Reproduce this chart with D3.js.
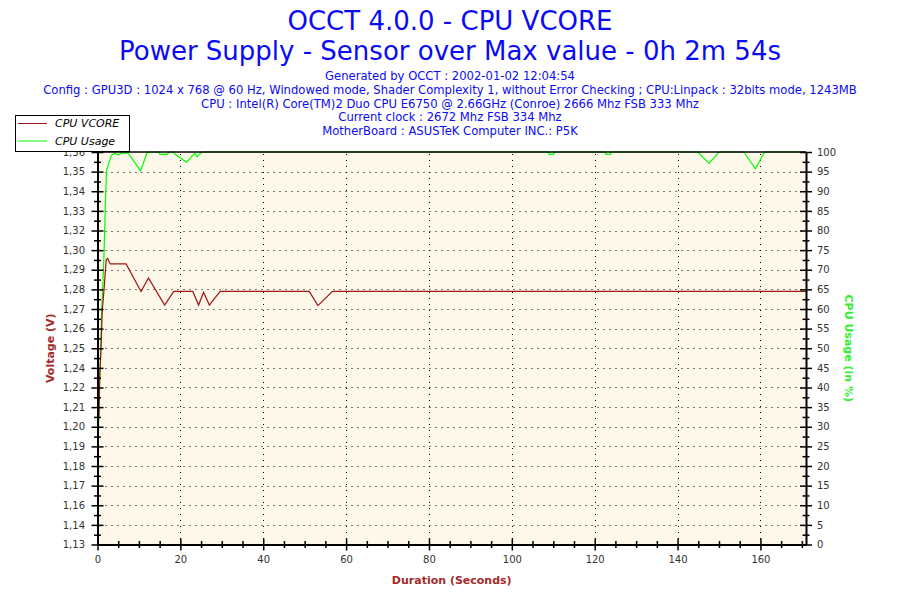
<!DOCTYPE html>
<html>
<head>
<meta charset="utf-8">
<script src="https://cdn.jsdelivr.net/npm/d3@7"></script>
<style>
    body { margin: 0; background: #fff; }
    svg text { font-family: "DejaVu Sans", Verdana, sans-serif; }
</style>
</head>
<body>
<div class="visContainer"></div>
<script>
// Header text.
const titleLines = ['OCCT 4.0.0 - CPU VCORE', 'Power Supply - Sensor over Max value - 0h 2m 54s'];
const infoLines = [
    'Generated by OCCT : 2002-01-02 12:04:54',
    'Config : GPU3D : 1024 x 768 @ 60 Hz, Windowed mode, Shader Complexity 1, without Error Checking ; CPU:Linpack : 32bits mode, 1243MB',
    'CPU : Intel(R) Core(TM)2 Duo CPU E6750 @ 2.66GHz (Conroe) 2666 Mhz FSB 333 Mhz',
    'Current clock : 2672 Mhz FSB 334 Mhz',
    'MotherBoard : ASUSTeK Computer INC.: P5K'
];
const seriesNames = ['CPU VCORE', 'CPU Usage'];

// Axis ticks.
const voltMin = 1.1322;
const voltMax = 1.3622;
const voltTickLabels = ['1,13', '1,14', '1,16', '1,17', '1,18', '1,19', '1,20', '1,21', '1,22', '1,24', '1,25',
                        '1,26', '1,27', '1,28', '1,29', '1,30', '1,32', '1,33', '1,34', '1,35', '1,36'];
const usageTicks = [0, 5, 10, 15, 20, 25, 30, 35, 40, 45, 50, 55, 60, 65, 70, 75, 80, 85, 90, 95, 100];
const timeTicks = [0, 20, 40, 60, 80, 100, 120, 140, 160];
const timeMax = 171;

// Series (seconds, volts / percent).
const vcoreTime = [0.35, 0.52, 0.84, 1.16, 1.57, 1.8, 2.1, 2.4, 3.1, 6.9, 10.5, 12.3, 16.2, 18.4,
                   23.0, 24.4, 25.6, 27.0, 29.6, 51.1, 53.2, 56.7, 171];
const vcoreValues = [1.2071, 1.2305, 1.2462, 1.2696, 1.2813, 1.2891, 1.2989, 1.2999, 1.2966, 1.2966, 1.2805, 1.2884, 1.2725, 1.2805,
                     1.2805, 1.2725, 1.2800, 1.2725, 1.2805, 1.2805, 1.2722, 1.2805, 1.2805];
const usageTime = [0.15, 0.36, 0.67, 1.0, 1.3, 1.6, 1.9, 2.2, 3.4, 4.2, 5.0, 5.8, 7.4, 10.4, 11.9, 12.7,
                   14.7, 15.1, 16.7, 17.5, 18.3, 18.7, 21.5, 22.7, 23.5, 24.0, 24.9, 25.5,
                   108.8, 109, 110, 110.2, 122.5, 122.7, 123.8, 124, 144.9, 147.6, 150, 156, 158.8, 161, 171];
const usageValues = [26, 34, 46, 59.5, 66.4, 74.8, 86.8, 95.4, 99.2, 99.7, 99.2, 99.7, 99.7, 95.2, 99.7, 100,
                     100, 99.4, 99.4, 100, 100, 99.4, 97.4, 98.8, 99.7, 98.8, 99.7, 100,
                     100, 99.4, 99.4, 100, 100, 99.4, 99.4, 100, 100, 97.1, 100, 100, 95.7, 100, 100];

// SVG constants.
const width = 900;
const height = 600;
const plot = { left: 97.5, right: 806, top: 152, bottom: 544.5 };
const vcoreColor = '#A01414';
const usageColor = '#00FF00';

const svg = d3.select('.visContainer')
              .append('svg')
              .attr('width', width)
              .attr('height', height);

// Scales.
const x = d3.scaleLinear().domain([0, timeMax]).range([plot.left, plot.right]);
const yVolt = d3.scaleLinear().domain([voltMin, voltMax]).range([plot.bottom, plot.top]);
const yUsage = d3.scaleLinear().domain([0, 100]).range([plot.bottom, plot.top]);

const voltStep = (voltMax - voltMin) / (voltTickLabels.length - 1);
const voltTicks = voltTickLabels.map((d, i) => voltMin + i * voltStep);
const voltMinor = voltTicks.slice(1).map((d) => d - voltStep / 2);
const usageMinor = usageTicks.slice(1).map((d) => d - 2.5);
const timeMinor = d3.range(5, timeMax, 5).filter((d) => d % 20 !== 0);

// Titles.
svg.selectAll('.title')
   .data(titleLines)
   .enter()
   .append('text')
   .attr('class', 'title')
   .attr('x', width / 2)
   .attr('y', (d, i) => 29.5 + i * 30.5)
   .attr('text-anchor', 'middle')
   .attr('font-size', 26)
   .attr('fill', '#0A0AF5')
   .text((d) => d);

svg.selectAll('.info')
   .data(infoLines)
   .enter()
   .append('text')
   .attr('class', 'info')
   .attr('x', width / 2)
   .attr('y', (d, i) => 80 + i * 13.8)
   .attr('text-anchor', 'middle')
   .attr('font-size', 11.6)
   .attr('fill', '#0A0AF5')
   .text((d) => d);

// Plot background.
svg.append('rect')
   .attr('x', plot.left)
   .attr('y', plot.top)
   .attr('width', plot.right - plot.left)
   .attr('height', plot.bottom - plot.top)
   .attr('fill', '#FDF8E9');

// Grid.
const grid = svg.append('g')
                .attr('stroke', '#000')
                .attr('stroke-width', 1)
                .attr('stroke-dasharray', '1,5');
grid.selectAll('.hgrid')
    .data(voltTicks.slice(1, -1))
    .enter()
    .append('line')
    .attr('x1', plot.left + 8)
    .attr('x2', plot.right)
    .attr('y1', (d) => Math.round(yVolt(d)) + 0.5)
    .attr('y2', (d) => Math.round(yVolt(d)) + 0.5);
grid.selectAll('.vgrid')
    .data(timeTicks.slice(1))
    .enter()
    .append('line')
    .attr('x1', (d) => Math.round(x(d)) + 0.5)
    .attr('x2', (d) => Math.round(x(d)) + 0.5)
    .attr('y1', plot.top + 2)
    .attr('y2', plot.bottom - 4);

// Series lines.
const usageLine = d3.line()
                    .x((d, i) => x(usageTime[i]))
                    .y((d) => yUsage(d));
const vcoreLine = d3.line()
                    .x((d, i) => x(vcoreTime[i]))
                    .y((d) => yVolt(d));

svg.append('path')
   .datum(usageValues)
   .attr('d', usageLine)
   .attr('fill', 'none')
   .attr('stroke', usageColor)
   .attr('stroke-width', 1.2);
svg.append('path')
   .datum(vcoreValues)
   .attr('d', vcoreLine)
   .attr('fill', 'none')
   .attr('stroke', vcoreColor)
   .attr('stroke-width', 1.2);

// Axes. Ticks cross the axis line, so each tick line is stretched to the other side.
function styleAxis(g, key, size) {
    g.select('.domain').attr('stroke', '#000').attr('stroke-width', 2);
    g.selectAll('.tick line')
     .attr('stroke', '#000')
     .attr('stroke-width', 1.5)
     .attr(key, size);
    g.selectAll('.tick text')
     .attr('fill', '#333')
     .attr('font-size', 10)
     .attr('font-family', '"DejaVu Sans", Verdana, sans-serif');
}

function minorAxis(axis, transform, key, size) {
    const g = svg.append('g').attr('transform', transform).call(axis);
    g.select('.domain').remove();
    g.selectAll('.tick line')
     .attr('stroke', '#000')
     .attr('stroke-width', 1.5)
     .attr(key, size);
}

minorAxis(d3.axisLeft(yVolt).tickValues(voltMinor).tickFormat('').tickSize(3.5),
          'translate(' + plot.left + ',0)', 'x1', 3.5);
minorAxis(d3.axisRight(yUsage).tickValues(usageMinor).tickFormat('').tickSize(3.5),
          'translate(' + plot.right + ',0)', 'x1', -3.5);
minorAxis(d3.axisBottom(x).tickValues(timeMinor).tickFormat('').tickSize(3.5),
          'translate(0,' + plot.bottom + ')', 'y1', -3.5);

svg.append('g')
   .attr('transform', 'translate(' + plot.left + ',0)')
   .call(d3.axisLeft(yVolt)
           .tickValues(voltTicks)
           .tickFormat((d, i) => voltTickLabels[i])
           .tickSize(6)
           .tickSizeOuter(0)
           .tickPadding(6.5))
   .call((g) => styleAxis(g, 'x1', 6));

svg.append('g')
   .attr('transform', 'translate(' + plot.right + ',0)')
   .call(d3.axisRight(yUsage)
           .tickValues(usageTicks)
           .tickSize(6)
           .tickSizeOuter(0)
           .tickPadding(5))
   .call((g) => styleAxis(g, 'x1', -6));

svg.append('g')
   .attr('transform', 'translate(0,' + plot.bottom + ')')
   .call(d3.axisBottom(x)
           .tickValues(timeTicks)
           .tickSize(6)
           .tickSizeOuter(0)
           .tickPadding(5))
   .call((g) => styleAxis(g, 'y1', -6));

// Top border.
svg.append('line')
   .attr('x1', plot.left)
   .attr('x2', plot.right)
   .attr('y1', plot.top)
   .attr('y2', plot.top)
   .attr('stroke', '#000')
   .attr('stroke-width', 1.5);

// Axis titles.
svg.append('text')
   .attr('transform', 'translate(54,' + (plot.top + plot.bottom) / 2 + ') rotate(-90)')
   .attr('text-anchor', 'middle')
   .attr('font-size', 11)
   .attr('font-weight', 'bold')
   .attr('fill', '#A52A2A')
   .text('Voltage (V)');

svg.append('text')
   .attr('transform', 'translate(845,' + (plot.top + plot.bottom) / 2 + ') rotate(90)')
   .attr('text-anchor', 'middle')
   .attr('font-size', 11)
   .attr('font-weight', 'bold')
   .attr('fill', '#33EE33')
   .text('CPU Usage (in %)');

svg.append('text')
   .attr('x', (plot.left + plot.right) / 2)
   .attr('y', 584)
   .attr('text-anchor', 'middle')
   .attr('font-size', 11)
   .attr('font-weight', 'bold')
   .attr('fill', '#A52A2A')
   .text('Duration (Seconds)');

// Legend.
const legend = svg.append('g');
legend.append('rect')
      .attr('x', 15.5)
      .attr('y', 115.5)
      .attr('width', 114)
      .attr('height', 36)
      .attr('fill', '#fff')
      .attr('stroke', '#000');
const legendItems = legend.selectAll('.legend-item')
                          .data(seriesNames)
                          .enter()
                          .append('g')
                          .attr('class', 'legend-item')
                          .attr('transform', (d, i) => 'translate(0,' + (123.5 + i * 17.5) + ')');
legendItems.append('line')
           .attr('x1', 18)
           .attr('x2', 47)
           .attr('stroke', (d, i) => (i === 0 ? vcoreColor : usageColor));
legendItems.append('text')
           .attr('x', 55)
           .attr('y', 3.5)
           .attr('font-size', 11)
           .attr('font-style', 'italic')
           .attr('fill', '#000')
           .text((d) => d);
</script>
</body>
</html>
